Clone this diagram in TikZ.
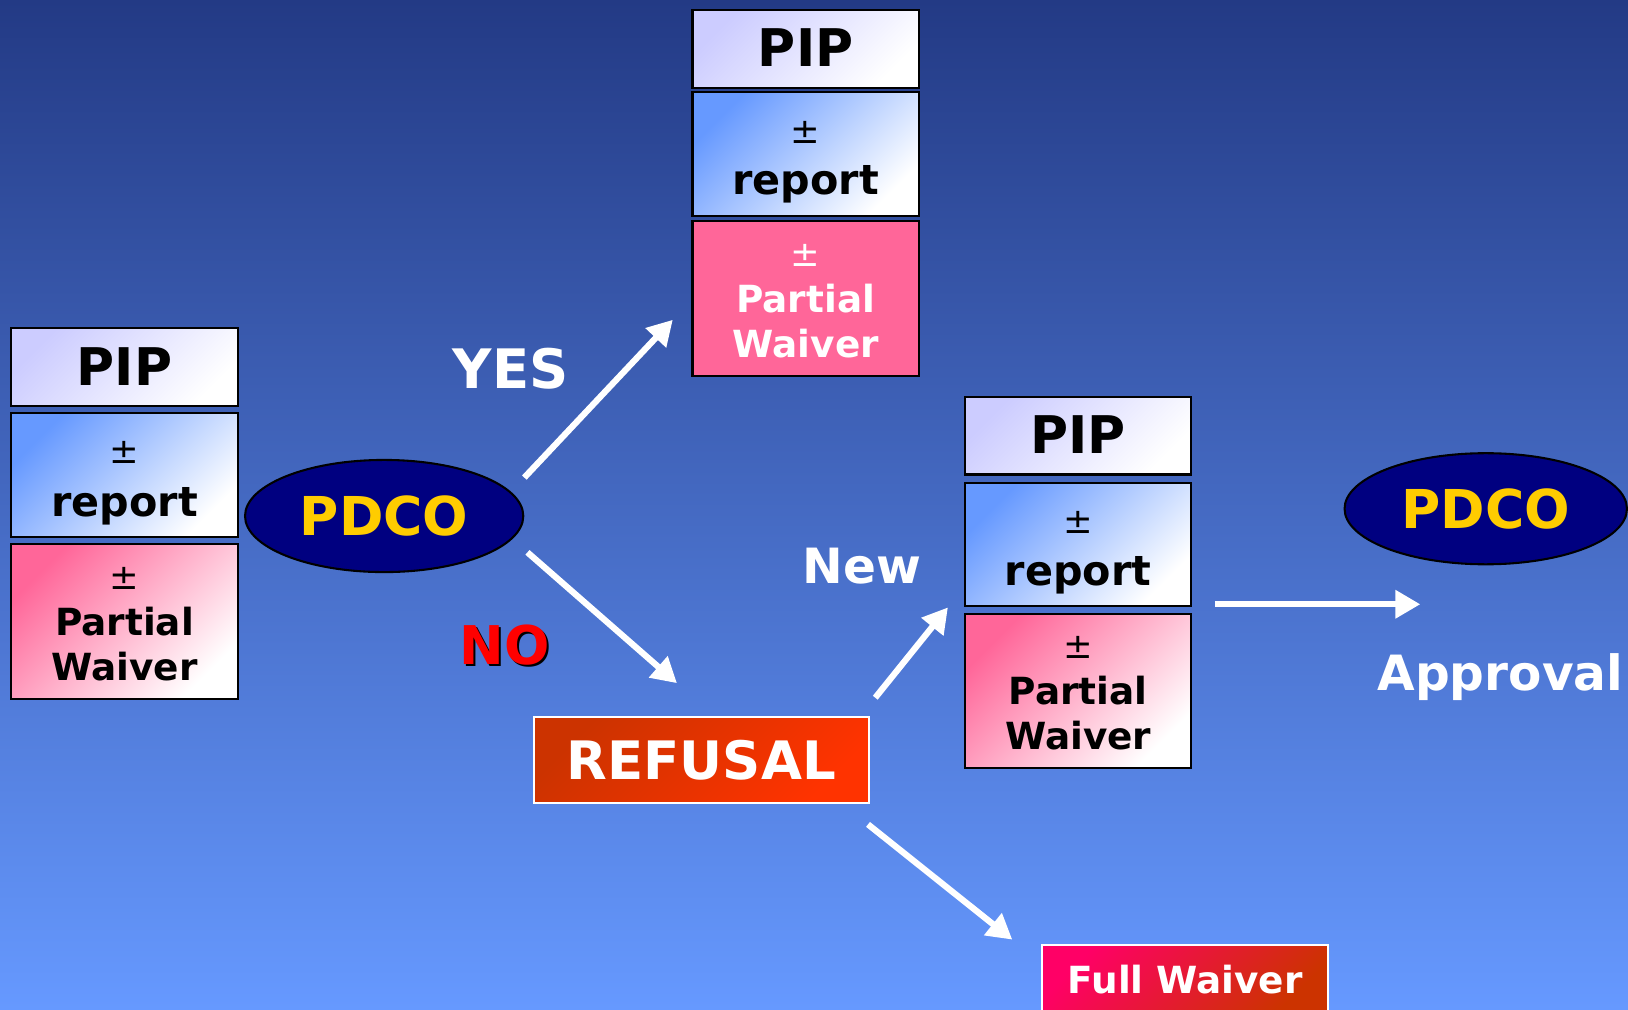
\documentclass[tikz,border=0pt]{standalone}
\usepackage{fontspec}
\setmainfont{DejaVu Sans}
\usetikzlibrary{arrows.meta,shapes.geometric,calc}

\definecolor{bgtop}{HTML}{233A85}
\definecolor{bgbot}{HTML}{6699FF}
\definecolor{lav}{HTML}{CCCCFF}
\definecolor{repblue}{HTML}{6699FF}
\definecolor{pinkc}{HTML}{FF6699}
\definecolor{navyc}{HTML}{000080}
\definecolor{goldc}{HTML}{FFCC00}
\definecolor{refA}{HTML}{CC3300}
\definecolor{refB}{HTML}{FF3300}
\definecolor{fwA}{HTML}{FF0066}
\definecolor{fwB}{HTML}{CC3300}
\definecolor{noRed}{HTML}{FF0000}

\tikzset{
  box/.style={draw=black, line width=1pt, rectangle, inner sep=0pt, minimum width=109pt},
  pipbox/.style={box, minimum height=37.5pt, top color=lav, bottom color=white, shading angle=45},
  repbox/.style={box, minimum height=59.5pt, top color=repblue, bottom color=white, shading angle=45},
  pwbox/.style={box, minimum height=74.5pt, top color=pinkc, bottom color=white, shading angle=45},
  pwsolid/.style={box, minimum height=74.5pt, fill=pinkc},
  piptext/.style={anchor=base, inner sep=0pt, font=\bfseries\fontsize{25}{25}\selectfont},
  reptext/.style={anchor=base, inner sep=0pt, font=\bfseries\fontsize{19.9}{19.9}\selectfont},
  pwtext/.style={anchor=base, inner sep=0pt, font=\bfseries\fontsize{18}{18}\selectfont},
  pmtext/.style={anchor=center, inner sep=0pt, font=\fontsize{17}{17}\selectfont},
  pdco/.style={ellipse, draw=black, line width=1pt, fill=navyc, text=goldc, inner sep=0pt,
    font=\bfseries\fontsize{25.8}{25.8}\selectfont},
  lbl/.style={text=white, inner sep=0pt, font=\bfseries\fontsize{23.4}{23.4}\selectfont},
  arr/.style={draw=white, line width=3pt, -{Triangle[length=12pt,width=13pt]}},
}

\begin{document}
\begin{tikzpicture}[x=0.5pt,y=-0.5pt]
\clip (0,0) rectangle (1568,972);
\shade[top color=bgtop, bottom color=bgbot] (0,0) rectangle (1568,972);

% ---------- left stack ----------
\node[pipbox] (lpip) at (120,353.5) {};
\node[repbox] (lrep) at (120,457.5) {};
\node[pwbox]  (lpw)  at (120,598.5) {};
\node[piptext] (lpipt) at ($(lpip.north)+(0,56)$) {PIP};
\node[pmtext]  (lrepa) at ($(lrep.north)+(0,39)$) {±};
\node[reptext] (lrepb) at ($(lrep.north)+(0,100)$) {report};
\node[pmtext]  (lpwa)  at ($(lpw.north)+(0,34)$) {±};
\node[pwtext]  (lpwb)  at ($(lpw.north)+(0,89)$) {Partial};
\node[pwtext]  (lpwc)  at ($(lpw.north)+(0,132)$) {Waiver};

% ---------- top stack ----------
\node[pipbox] (tpip) at (776,47) {};
\node[repbox] (trep) at (776,148.5) {};
\node[pwsolid] (tpw) at (776,287.5) {};
\node[piptext] (tpipt) at ($(tpip.north)+(0,56)$) {PIP};
\node[pmtext]  (trepa) at ($(trep.north)+(0,40)$) {±};
\node[reptext] (trepb) at ($(trep.north)+(0,99)$) {report};
\node[pmtext, text=white]  (tpwa) at ($(tpw.north)+(0,34)$) {±};
\node[pwtext, text=white]  (tpwb) at ($(tpw.north)+(0,89)$) {Partial};
\node[pwtext, text=white]  (tpwc) at ($(tpw.north)+(0,132)$) {Waiver};

% ---------- right stack ----------
\node[pipbox] (rpip) at (1038.5,419.5) {};
\node[repbox] (rrep) at (1038.5,524.5) {};
\node[pwbox]  (rpw)  at (1038.5,665.5) {};
\node[piptext] (rpipt) at ($(rpip.north)+(0,56)$) {PIP};
\node[pmtext]  (rrepa) at ($(rrep.north)+(0,39)$) {±};
\node[reptext] (rrepb) at ($(rrep.north)+(0,100)$) {report};
\node[pmtext]  (rpwa)  at ($(rpw.north)+(0,34)$) {±};
\node[pwtext]  (rpwb)  at ($(rpw.north)+(0,89)$) {Partial};
\node[pwtext]  (rpwc)  at ($(rpw.north)+(0,132)$) {Waiver};

% ---------- ellipses ----------
\node[pdco, minimum width=134pt, minimum height=54pt] (pdcoL) at (370,497) {PDCO};
\node[pdco, minimum width=136pt, minimum height=53.5pt] (pdcoR) at (1431,490) {PDCO};

% ---------- refusal / full waiver ----------
\node[draw=white, line width=1pt, minimum width=161.5pt, minimum height=41pt, inner sep=0pt,
      top color=refA, bottom color=refB, shading angle=45,
      text=white, font=\bfseries\fontsize{25.5}{25.5}\selectfont] (refusal) at (675.5,732) {REFUSAL};
\node[draw=white, line width=1pt, minimum width=137.5pt, minimum height=33pt, inner sep=0pt,
      top color=fwA, bottom color=fwB, shading angle=45,
      text=white, font=\bfseries\fontsize{18}{18}\selectfont] (fullw) at (1141.5,943) {Full Waiver};

% ---------- labels ----------
\node[lbl, font=\bfseries\fontsize{26.2}{26.2}\selectfont] (yes) at (492,355) {YES};
\node[inner sep=0pt, text=black, font=\bfseries\fontsize{25.7}{25.7}\selectfont] (noshadow) at (488,623) {NO};
\node[inner sep=0pt, text=noRed, font=\bfseries\fontsize{25.7}{25.7}\selectfont] (no) at (486,621) {NO};
\node[lbl] (new) at (830,545) {New};
\node[lbl] (approval) at (1445,652) {Approval};

% ---------- arrows ----------
\coordinate (yesA) at (505,460);
\coordinate (yesB) at (648,308);
\coordinate (noA) at (508,532);
\coordinate (noB) at (652,658);
\coordinate (newA) at (843,672);
\coordinate (newB) at (913,585);
\coordinate (apA) at (1170,582);
\coordinate (apB) at (1368,582);
\coordinate (fwA) at (836,794);
\coordinate (fwB) at (975,905);
\draw[arr] (yesA) -- (yesB);
\draw[arr] (noA) -- (noB);
\draw[arr] (newA) -- (newB);
\draw[arr] (apA) -- (apB);
\draw[arr] (fwA) -- (fwB);
\end{tikzpicture}
\end{document}
